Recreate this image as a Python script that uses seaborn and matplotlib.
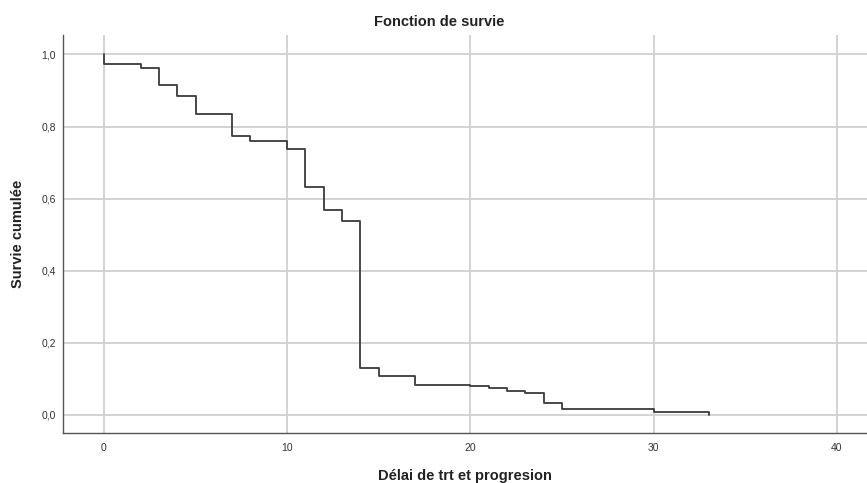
import matplotlib
matplotlib.use("Agg")
import matplotlib.pyplot as plt
import pandas as pd
import seaborn as sns

# Kaplan-Meier steps
times = [0, 0, 2, 3, 4, 5, 7, 8, 10, 11, 12, 13, 14, 15, 17, 20, 21, 22, 23, 24, 25, 30, 33, 33]
survival = [1.0, 0.974, 0.962, 0.916, 0.886, 0.835, 0.773, 0.761, 0.737, 0.632, 0.567, 0.537,
            0.131, 0.108, 0.084, 0.080, 0.073, 0.067, 0.061, 0.032, 0.016, 0.008, 0.008, 0.0]
x_ticks = [0, 10, 20, 30, 40]
y_ticks = [0.0, 0.2, 0.4, 0.6, 0.8, 1.0]

df = pd.DataFrame({"time": times, "survie": survival})

sns.set_theme(style="whitegrid")
plt.rcParams['font.family'] = ['Liberation Sans', 'DejaVu Sans']

fig = plt.figure(figsize=(8.67, 4.83), dpi=100)
ax = fig.add_axes([63 / 867, 50 / 483, 804 / 867, 398 / 483])

sns.lineplot(data=df, x="time", y="survie", ax=ax, sort=False, estimator=None,
             drawstyle="steps-post", color="#3a3a3a", linewidth=1.3)

ax.set_xlim(-2.23, 41.64)
ax.set_ylim(-0.0506, 1.054)
ax.set_xticks(x_ticks)
ax.set_yticks(y_ticks)
ax.set_yticklabels([f"{v:.1f}".replace(".", ",") for v in y_ticks])
ax.tick_params(axis="both", labelsize=7.5, colors="#333333", length=0)
ax.tick_params(axis="x", pad=7)
ax.tick_params(axis="y", pad=5)

ax.grid(True, color="#d0d0d0", linewidth=1.3)
for side in ["top", "right"]:
    ax.spines[side].set_visible(False)
for side in ["left", "bottom"]:
    ax.spines[side].set_visible(True)
    ax.spines[side].set_color("#555555")
    ax.spines[side].set_linewidth(1.0)

ax.set_xlabel("Délai de trt et progresion", fontsize=10.5, fontweight="bold", color="#222222", labelpad=12)
ax.set_ylabel("Survie cumulée", fontsize=10.5, fontweight="bold", color="#222222", labelpad=12)
fig.text(0.507, 0.955, "Fonction de survie", ha="center", va="center",
         fontsize=10.5, fontweight="bold", color="#222222")

fig.savefig("out.png", dpi=100)
